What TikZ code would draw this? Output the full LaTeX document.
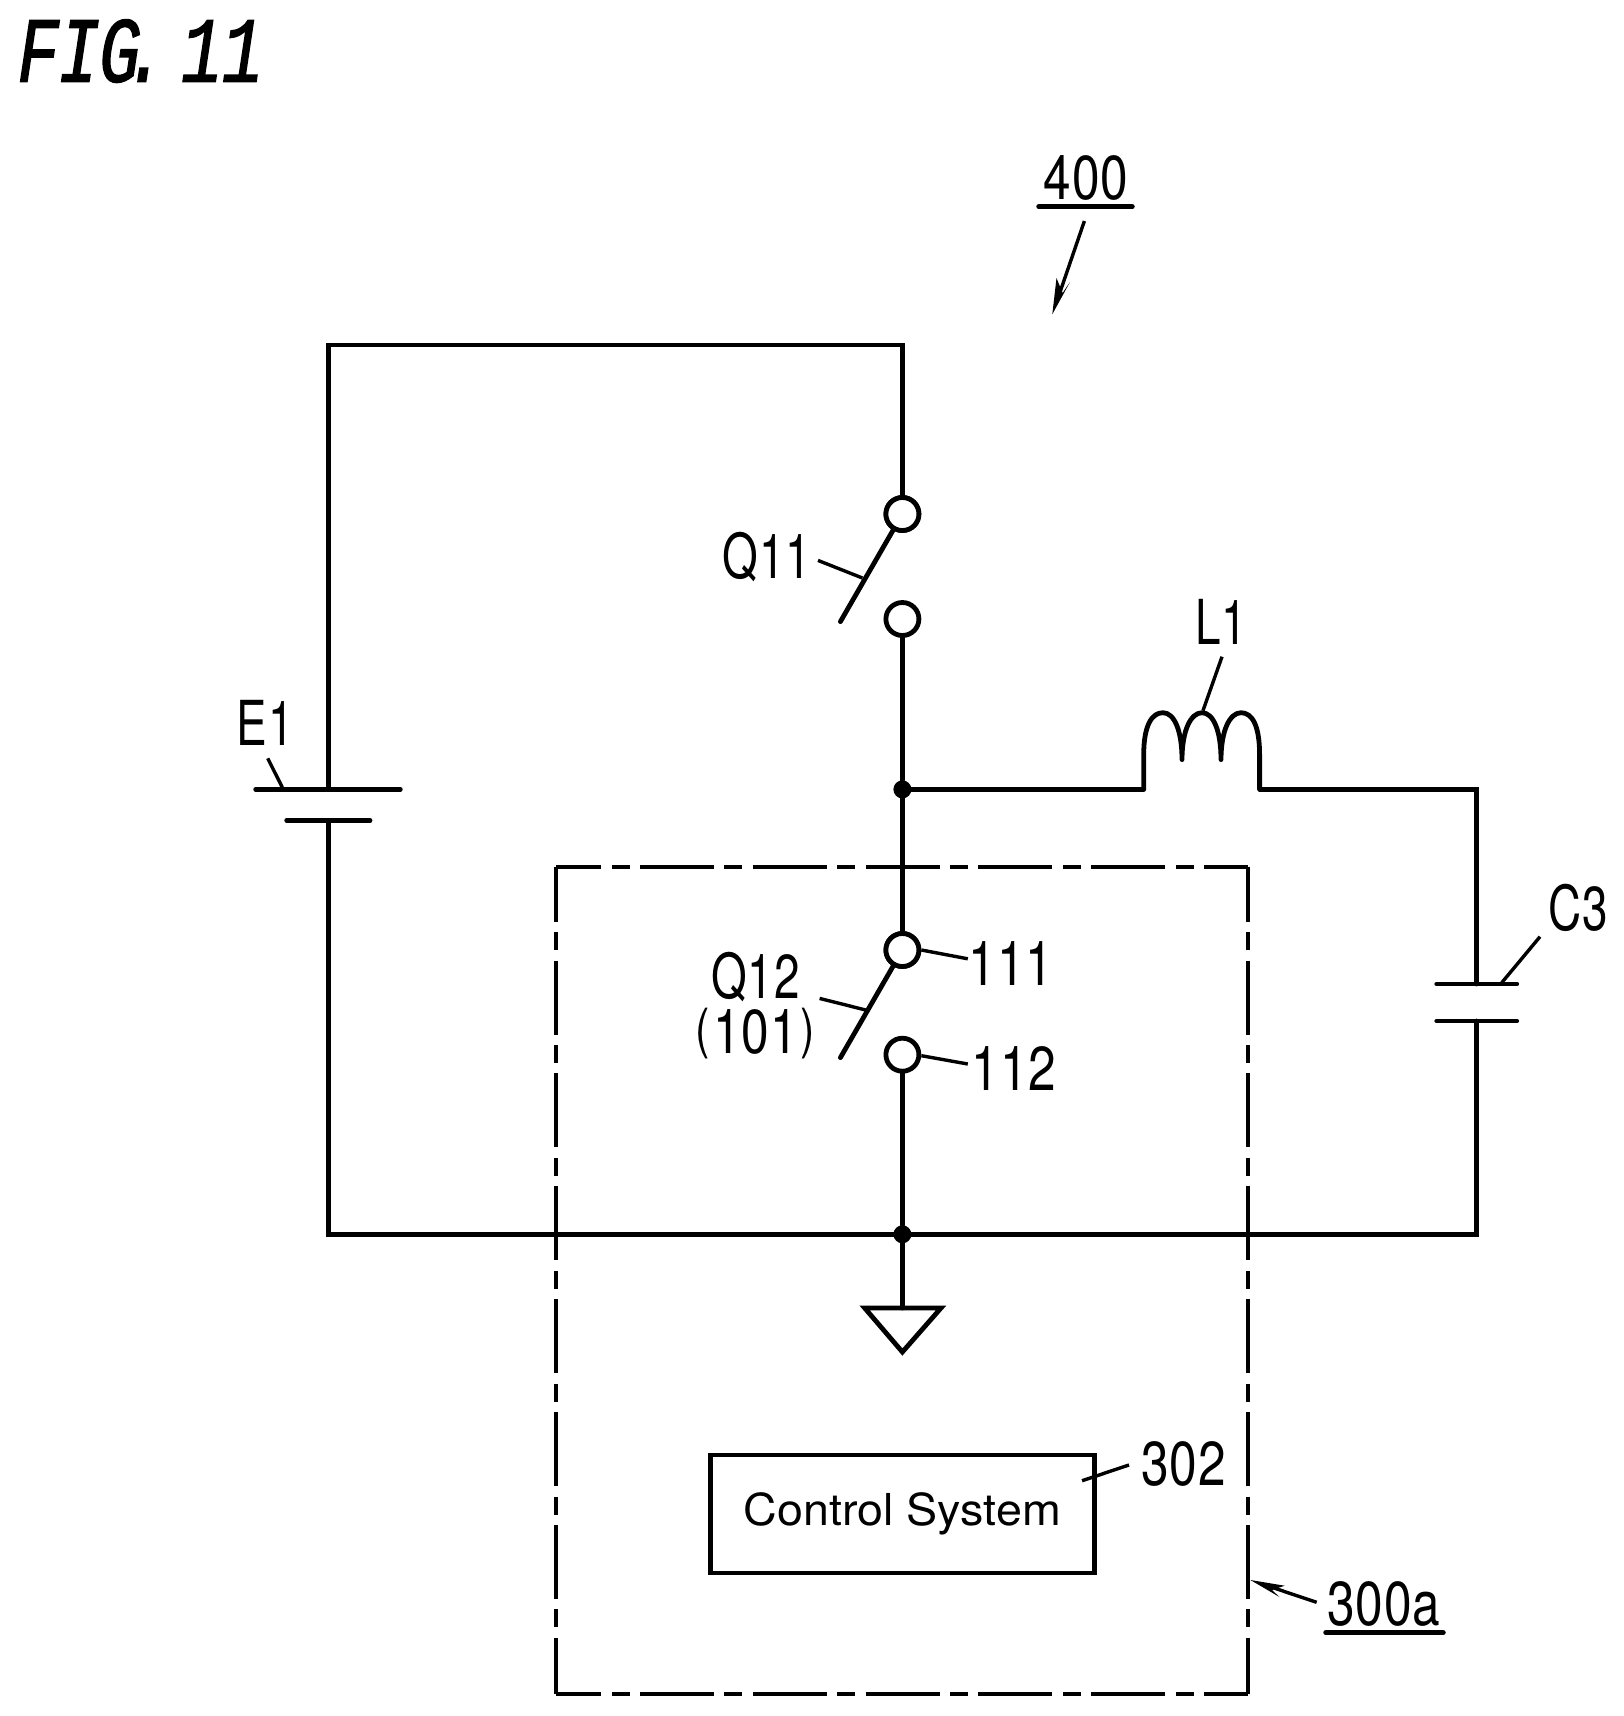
\documentclass[tikz,border=0pt]{standalone}
\usepackage{fontspec}
\newfontfamily\lab[FakeStretch=0.8,LetterSpace=1.5]{TeX Gyre Heros}
\newfontfamily\labn[FakeStretch=0.74,LetterSpace=1.5]{TeX Gyre Heros}
\newfontfamily\ctl[FakeStretch=1.06]{TeX Gyre Heros}
\newfontfamily\fig[FakeStretch=0.73,FakeSlant=0.15,FakeBold=1.6]{Liberation Mono}
\newcommand{\parL}{\raisebox{6.5pt}{\fontsize{54}{54}\selectfont(}}
\newcommand{\parR}{\raisebox{6.5pt}{\fontsize{54}{54}\selectfont)}}
\tikzset{
  x=1pt,y=-1pt,
  wire/.style={line width=4.8pt,line cap=round,line join=miter},
  thin lead/.style={line width=3.4pt},
  term/.style={circle,draw,line width=4.8pt,fill=white,minimum size=33pt,inner sep=0pt},
  dot/.style={circle,fill=black,minimum size=18pt,inner sep=0pt},
  lbl/.style={inner sep=0pt,anchor=base,font=\lab\fontsize{62}{62}\selectfont},
  lbln/.style={inner sep=0pt,anchor=base,font=\labn\fontsize{62}{62}\selectfont},
  undr/.style={line width=5.5pt,line cap=round},
  chain dash/.style={line width=4pt,dash pattern=on 74pt off 10.5pt on 18pt off 10.36pt},
}
\begin{document}
\begin{tikzpicture}
\useasboundingbox (0,0) rectangle (1624,1716);
% coordinates
\coordinate (tl) at (328.5,345);
\coordinate (tr) at (902.4,345);
\coordinate (bl) at (328.5,1234.3);
\coordinate (br) at (1476.5,1234.3);
\coordinate (batA) at (328.5,789.3);
\coordinate (batB) at (328.5,820.3);
\coordinate (capA) at (1476.5,984);
\coordinate (capB) at (1476.5,1021);
\coordinate (cr) at (1476.5,789.4);
\coordinate (indL) at (1143.7,789.4);
\coordinate (indR) at (1259.6,789.4);
\coordinate (gndtop) at (902.4,1308);
% dashed box
\coordinate (d1) at (556,866.7);
\coordinate (d2) at (1248.4,866.7);
\coordinate (d3) at (1248.4,1693.7);
\coordinate (d4) at (556,1693.7);
\draw[chain dash,dash phase=29pt] (d1) -- (d2);
\draw[chain dash,dash phase=29pt] (d4) -- (d3);
\draw[chain dash,dash phase=19pt] (d1) -- (d4);
\draw[chain dash,dash phase=19pt] (d2) -- (d3);
% terminals and junctions
\node[term] (q11a) at (902.4,514) {};
\node[term] (q11b) at (902.4,619) {};
\node[term] (q12a) at (902.4,950) {};
\node[term] (q12b) at (902.4,1054.7) {};
\node[dot] (j1) at (902.4,789.4) {};
\node[dot] (j2) at (902.4,1234.3) {};
% wires
\draw[wire] (batA) -- (tl) -- (tr) -- (q11a);
\draw[wire] (batB) -- (bl) -- (br) -- (capB);
\draw[wire] (q11b) -- (j1) -- (q12a);
\draw[wire] (q12b) -- (j2) -- (gndtop);
\draw[wire] (j1) -- (indL);
\draw[wire] (indR) -- (cr) -- (capA);
\draw[wire,line cap=butt,line join=round] (indL) -- (1143.7,755)
  .. controls (1143.7,725) and (1152,712.7) .. (1163,712.7)
  .. controls (1174,712.7) and (1182,730) .. (1182,759.6)
  .. controls (1182,730) and (1191,712.7) .. (1202,712.7)
  .. controls (1213,712.7) and (1221,730) .. (1221,759.6)
  .. controls (1221,730) and (1230,712.7) .. (1241,712.7)
  .. controls (1252,712.7) and (1259.6,725) .. (1259.6,755) -- (indR);
% switch blades
\coordinate (b1) at (840.4,621.6);
\coordinate (b2) at (840.4,1057.6);
\draw[wire] (q11a) -- (b1);
\draw[wire] (q12a) -- (b2);
\node[term] at (q11a) {};
\node[term] at (q12a) {};
% battery, capacitor
\coordinate (ba1) at (255.7,789.3); \coordinate (ba2) at (400.3,789.3);
\coordinate (bb1) at (286.7,820.3); \coordinate (bb2) at (370,820.3);
\coordinate (ca1) at (1436.7,984); \coordinate (ca2) at (1516.7,984);
\coordinate (cb1) at (1436.7,1021); \coordinate (cb2) at (1516.7,1021);
\draw[wire] (ba1) -- (ba2);
\draw[wire] (bb1) -- (bb2);
\draw[wire] (ca1) -- (ca2);
\draw[wire] (cb1) -- (cb2);
% ground
\coordinate (g1) at (864.7,1308); \coordinate (g2) at (941,1308); \coordinate (g3) at (902.4,1352);
\draw[wire,line join=miter] (g1) -- (g2) -- (g3) -- cycle;
% control system
\node (ctrl) [draw,line width=4.8pt,minimum width=383.7pt,minimum height=118pt,inner sep=0pt,font=\ctl\fontsize{44}{44}\selectfont] at (902.4,1514) {Control System};
% labels
\node[lbln] (tE) at (265,745) {E1};
\node[lbln] (tQ11) at (767,578) {Q11};
\node[lbln] (tL1) at (1221,644.5) {L1};
\node[lbln] (tC3) at (1578,930) {C3};
\node[inner sep=0pt,anchor=south,align=center,font=\lab\fontsize{62}{55.7}\selectfont] (tQ12) at (755.5,1059) {{\labn Q12}\\\parL\kern3pt 101\kern3pt\parR};
\node[lbl] (t111) at (1011,985) {111};
\node[lbl] (t112) at (1014,1090) {112};
\node[lbl] (t302) at (1183.5,1485) {302};
\node[lbl] (t400) at (1086,199) {400};
\node[lbl] (t300) at (1384,1625) {300a};
\node[inner sep=0pt,anchor=base west,font=\fig\fontsize{93}{93}\selectfont] (tfig) at (14,81.7) {FIG\kern-15pt.\kern-25pt\ 11};
% leaders
\coordinate (lE) at (267.7,758.3); \coordinate (lEb) at (282.3,787.3);
\draw[thin lead] (lE) -- (lEb);
\coordinate (lQa) at (818,560.4); \coordinate (lQb) at (862.4,578);
\draw[thin lead] (lQa) -- (lQb);
\coordinate (lLa) at (1222,656.7); \coordinate (lLb) at (1203,710.6);
\draw[thin lead] (lLa) -- (lLb);
\coordinate (lCa) at (1540,936.7); \coordinate (lCb) at (1501.7,982.7);
\draw[thin lead] (lCa) -- (lCb);
\coordinate (lQ2a) at (819.6,998.4); \coordinate (lQ2b) at (865.7,1010);
\draw[thin lead] (lQ2a) -- (lQ2b);
\coordinate (l111) at (967.8,958.8); \coordinate (l112) at (967.8,1064);
\draw[thin lead] (q12a) ++(19,0) -- (l111);
\draw[thin lead] (q12b) ++(19,1) -- (l112);
\coordinate (l302a) at (1082,1480.7); \coordinate (l302b) at (1129,1465);
\draw[thin lead] (l302a) -- (l302b);
% underlines
\coordinate (u4a) at (1039,206.7); \coordinate (u4b) at (1132,206.7);
\coordinate (u3a) at (1326,1632.7); \coordinate (u3b) at (1443,1632.7);
\draw[undr] (u4a) -- (u4b);
\draw[undr] (u3a) -- (u3b);
% arrows
\coordinate (a4a) at (1084.4,221); \coordinate (a4b) at (1052.3,314.3);
\coordinate (a3a) at (1316.7,1602.3); \coordinate (a3b) at (1250.4,1580);
\draw[thin lead] (a4a) -- (1058,298);
\fill (a4b) -- (1056.5,278) -- (1062.6,293) -- (1070,282) -- cycle;
\draw[thin lead] (a3a) -- (1262,1584);
\fill (a3b) -- (1284.6,1585.7) -- (1272,1590) -- (1279.5,1597) -- cycle;
\end{tikzpicture}
\end{document}
